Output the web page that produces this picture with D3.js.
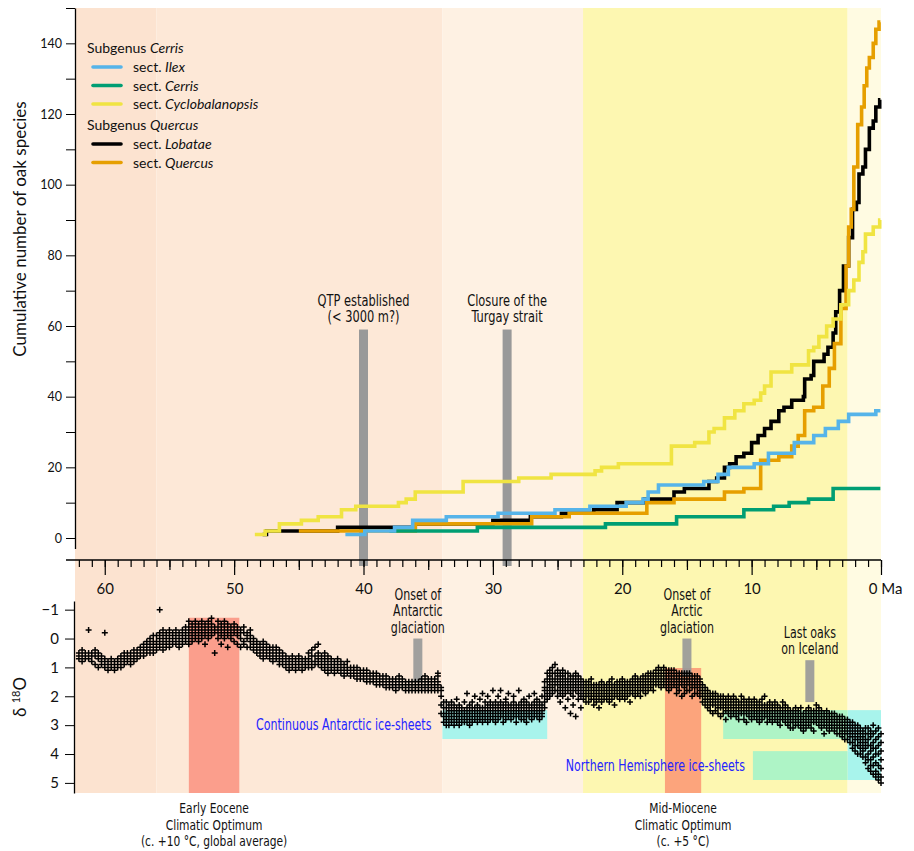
<!DOCTYPE html>
<html><head><meta charset="utf-8">
<script src="https://cdn.jsdelivr.net/npm/d3@7"></script>
<style>
body{margin:0;background:#fff}
svg{display:block}
.cond{font-family:"DejaVu Sans Condensed","Liberation Sans Narrow",sans-serif}
.reg{font-family:Lato,"Noto Sans",sans-serif}
</style></head><body>
<svg id="c" width="914" height="851"></svg>
<script>
// ---------------- DATA ----------------
const epochNames = ["Paleocene","Eocene","Oligocene","Miocene-Pliocene","Quaternary"];
const epochStart = [62.3, 56.0, 33.9, 23.03, 2.58];
const epochEnd   = [56.0, 33.9, 23.03, 2.58, 0];

const seriesNames = ["Ilex","Cerris","Cyclobalanopsis","Lobatae","Quercus"];
const subgenera = ["Cerris","Quercus"];
const subgenusMembers = [["Ilex","Cerris","Cyclobalanopsis"],["Lobatae","Quercus"]];
const ilex = [[41.4,1],[39.9,2],[37.6,3],[36.2,5],[33.6,6],[29.6,7],[25.2,8],[22.5,9],[19.7,10],[18.4,11],[18.0,13],[17.2,15],[13.7,16],[12.6,18],[11.8,20],[9.8,21],[8.7,24],[6.7,27],[5.2,29],[4.3,31],[3.3,33],[2.5,35],[0.4,36],[0.05,36]];
const cerris = [[38.0,2],[31.2,3],[21.3,4],[15.8,6],[10.6,8],[8.3,9],[7.1,10],[5.6,11],[3.7,14],[0.05,14]];
const cyclobalanopsis = [[48.4,1],[47.6,2],[46.5,4],[44.8,5],[43.5,6],[41.7,8],[40.6,9],[37.3,10],[36.7,11],[36.0,13],[32.3,16],[28.0,17],[25.5,18],[22.1,19],[21.6,20],[20.3,21],[16.2,26],[14.4,27],[13.3,30],[12.9,31],[12.1,34],[11.3,36],[10.6,38],[9.8,39],[9.3,41],[9.0,43],[8.5,47],[6.9,49],[5.6,53],[5.2,54],[4.8,57],[4.2,60],[3.7,62],[3.1,66],[2.5,70],[2.1,73],[1.7,78],[1.4,81],[1.2,86],[0.6,88],[0.1,90],[0.05,90]];
const lobatae = [[47.8,1],[47.5,2],[42.0,3],[36.0,4],[30.0,5],[27.1,6],[24.7,7],[22.2,8],[20.4,10],[18.3,11],[16.0,13],[15.2,14],[13.3,16],[12.7,17],[12.1,20],[11.7,21],[11.2,23],[10.6,24],[10.0,27],[9.5,29],[9.0,31],[8.5,33],[7.9,36],[7.5,37],[6.9,39],[6.0,40],[5.9,45],[5.4,46],[5.2,50],[4.4,52],[4.1,54],[3.7,58],[3.5,64],[3.2,70],[2.9,77],[2.5,85],[2.2,93],[1.9,95],[1.7,103],[1.4,105],[1.2,110],[0.9,116],[0.6,118],[0.4,122],[0.1,124],[0.05,124]];
const quercus = [[45.0,2],[36.0,4],[27.0,6],[24.1,7],[18.1,10],[16.0,11],[12.1,13],[10.6,14],[9.3,22],[7.9,23],[6.9,26],[6.4,29],[5.9,36],[5.2,37],[4.5,43],[4.0,48],[3.6,55],[3.1,65],[2.7,77],[2.5,88],[2.3,93],[2.1,105],[1.8,117],[1.5,122],[1.3,128],[1.1,133],[0.9,136],[0.6,140],[0.4,144],[0.15,146],[0.05,146]];
const seriesData = [ilex, cerris, cyclobalanopsis, lobatae, quercus];

const topEventLabels = [["QTP established","(< 3000 m?)"],["Closure of the","Turgay strait"]];
const topEventAges = [40.0, 28.9];
const topEventTop = [59, 59];
const isoEventLabels = [["Onset of","Antarctic","glaciation"],["Onset of","Arctic","glaciation"],["Last oaks","on Iceland"]];
const isoEventAges = [35.8, 15.0, 5.5];
const isoEventRange = [[0,1.5],[0,1.3],[0.75,2.2]];
const optimumLabels = [["Early Eocene","Climatic Optimum","(c. +10 °C, global average)"],["Mid-Miocene","Climatic Optimum","(c. +5 °C)"]];
const optimumAges = [[53.5,49.6],[16.7,13.9]];
const optimumTop = [-0.72, 1.02];
const iceLabels = ["Continuous Antarctic ice-sheets","Northern Hemisphere ice-sheets"];
const iceSpans = [[[33.9,25.8],[12.2,0]],[[9.9,0]]];
const iceRange = [[2.48,3.48],[3.9,4.9]];

// benthic d18O (per mille x10), rows: [age Ma, values...]
const d18O_paleogene = [
[62.0,5,7,6],[61.75,4,6,8],[61.5,6,5,7],[61.25,7,-3,5],[61.0,5,8,6],[60.75,6,9,4],[60.5,7,5,10],[60.25,8,6,9],[60.0,-2,7,9,10],[59.75,9,8,11],[59.5,10,7,9],[59.25,8,11,9],[59.0,9,7,10],[58.75,8,10,6],[58.5,7,9,5],[58.25,6,8,5,7],[58.0,7,5,9,6],[57.75,5,7,4,8],[57.5,6,4,7,5],[57.25,5,3,6,4],[57.0,4,2,6,3],[56.75,3,5,1,4],[56.5,2,4,0,3,5],[56.25,3,1,5,-1,2],[56.0,1,3,-1,2,4],
[55.75,-10,0,2,-2,3,1],[55.5,0,-3,2,1,-1,4],[55.25,1,-2,3,0,-1,2],[55.0,-1,2,0,-3,1,3],[54.75,0,-2,2,1,-1],[54.5,-1,1,-3,2,0],[54.25,0,-2,3,-1,1],[54.0,-2,1,-1,2,0,-3],[53.75,-3,0,-1,-4,1],[53.5,-6,-2,0,-4,2],[53.25,-3,-1,-5,1,-2],[53.0,-4,-2,0,-6,-1],[52.75,-5,-3,-1,1],[52.5,-2,-4,0,-6],[52.25,-3,-5,-1,2],[52.0,-4,-2,-6,0],[51.75,-5,-3,-1,-7],[51.5,-2,-4,5,-3],[51.25,-6,-2,0,-4],[51.0,-3,-5,-1,2],[50.75,-4,-2,0,-6],[50.5,-3,-1,-5,3],[50.25,-2,-4,0,-1],[50.0,-5,-3,1,-2],[49.75,-1,-3,2,-4],[49.5,-3,0,-2,3],[49.25,-2,1,-4,2],[49.0,0,-2,3,-1],[48.75,1,-1,3,-3],[48.5,2,0,4,1],[48.25,3,1,5,2],[48.0,4,2,6,3],[47.75,3,5,1,7],[47.5,4,6,2,5],[47.25,5,3,7,4],[47.0,6,4,8,3],[46.75,5,7,3,6],[46.5,6,8,4,9],[46.25,7,9,5,8],[46.0,8,6,10,7],[45.75,9,7,8,11],[45.5,8,10,6,9],[45.25,9,7,11,8],[45.0,10,8,9,6],[44.75,8,10,7,11],[44.5,9,7,10,8],[44.25,7,9,5,10],[44.0,8,6,10,4],[43.75,6,8,3,9],[43.5,7,5,9,2],[43.25,8,6,10,7],[43.0,9,7,11,5],[42.75,8,10,6,12],[42.5,9,11,7,10],[42.25,10,8,12,9],[42.0,11,9,10,7],[41.75,10,12,8,11],[41.5,11,9,13,10],[41.25,10,12,11,8],[41.0,12,10,13,11],[40.75,11,13,10,12],[40.5,12,11,14,10],[40.25,13,11,12,14],[40.0,12,14,11,13],[39.75,13,12,15,11],[39.5,14,12,13,15],[39.25,13,15,12,14],[39.0,14,13,16,12],[38.75,15,13,14,16],[38.5,14,16,13,15],[38.25,15,14,17,13],[38.0,16,14,15,17],[37.75,15,17,14,16],[37.5,16,15,18,14],[37.25,15,17,16,13],[37.0,16,14,17,15],[36.75,17,15,16,18],[36.5,16,18,15,17],[36.25,17,16,18,15],[36.0,16,18,17,15],[35.75,17,15,18,16],[35.5,16,18,15,17,14],[35.25,17,16,18,15,13],[35.0,16,18,17,15,14],[34.75,17,15,16,18,14,16],[34.5,16,17,15,18,14,17],[34.25,15,17,13,16,18,12]
];
const d18O_neogene = [
[34.0,17,20,23,18,26],[33.8,24,27,22,29,26],[33.6,26,29,24,28,30,22],[33.4,25,28,27,23,30,26],[33.2,27,24,29,26,22,28],[33.0,26,28,23,27,30,25],[32.8,25,27,29,24,26,21],[32.6,27,25,28,23,26,30],[32.4,26,29,24,27,25,28],[32.2,25,27,22,28,26,29],[32.0,27,24,26,29,25,19],[31.8,26,28,25,23,27,30],[31.6,25,27,29,24,26,22],[31.4,26,24,28,25,27,20],[31.2,27,25,23,28,26,29],[31.0,25,28,26,24,27,21],[30.8,26,24,27,29,25,19],[30.6,24,27,25,22,28,26],[30.4,26,23,27,25,29,20],[30.2,25,27,24,26,22,28],[30.0,24,26,28,23,25,18],[29.8,26,24,27,22,25,29],[29.6,25,23,27,26,20,28],[29.4,24,26,22,27,25,18],[29.2,25,27,23,26,24,29],[29.0,26,24,28,22,25,21],[28.8,24,26,23,27,25,19],[28.6,25,23,27,24,26,28],[28.4,24,26,22,25,27,20],[28.2,26,24,27,23,25,29],[28.0,25,27,23,26,24,18],[27.8,24,26,28,22,25,27],[27.6,25,23,26,24,28,21],[27.4,26,24,22,27,25,29],[27.2,24,27,25,23,26,20],[27.0,25,23,27,24,26,28],[26.8,26,24,22,25,27,19],[26.6,24,26,23,27,25,21],[26.4,25,27,24,26,22,28],[26.2,26,24,27,23,25,20],
[26.0,17,20,15,22,18,24],[25.8,14,17,12,19,15,21],[25.6,13,16,11,18,20,14],[25.4,15,12,17,10,19,14],[25.2,14,16,12,18,9,15],[25.0,16,13,18,11,15,20],[24.8,15,17,12,19,14,22],[24.6,13,16,18,11,15,20],[24.4,15,12,17,14,19,24],[24.2,16,14,18,12,17,21],[24.0,14,17,15,19,13,26],[23.8,16,13,18,15,20,23],[23.6,15,18,14,17,12,27],[23.4,17,14,19,16,21,13],[23.2,15,18,16,20,14,24],[23.0,16,19,15,18,21,17],[22.8,18,15,20,17,22,16],[22.6,17,20,16,19,22,15],[22.4,18,16,21,19,17,14],[22.2,19,17,21,16,20,23],[22.0,18,20,16,19,22,17],[21.8,17,19,21,16,18,24],[21.6,19,17,20,18,15,22],[21.4,18,20,17,19,21,16],[21.2,17,19,18,21,16,20],[21.0,19,17,20,15,18,22],[20.8,18,16,19,21,17,14],[20.6,17,19,16,20,18,23],[20.4,18,16,20,17,19,15],[20.2,17,19,15,18,21,16],[20.0,16,18,20,17,19,14],[19.8,18,16,19,17,15,21],[19.6,17,19,16,18,20,15],[19.4,16,18,17,19,15,22],[19.2,17,15,18,16,19,14],[19.0,16,18,15,17,20,13],[18.8,17,15,18,16,14,19],[18.6,16,18,15,17,14,20],[18.4,15,17,16,14,18,13],[18.2,16,14,17,15,13,19],[18.0,15,17,14,16,12,18],[17.8,14,16,13,15,17,12],[17.6,15,13,16,14,12,18],[17.4,14,12,15,13,16,11],[17.2,13,15,12,14,16,10],[17.0,14,12,15,13,11,17],[16.8,13,11,14,12,16,10],[16.6,12,14,11,13,15,17],[16.4,13,11,14,12,16,18],[16.2,12,14,13,11,15,17],[16.0,13,15,12,14,16,11],[15.8,14,12,15,13,17,19],[15.6,13,15,14,12,16,18],[15.4,14,12,16,13,15,20],[15.2,13,15,12,14,17,19],[15.0,14,16,13,15,12,18],[14.8,15,13,16,14,18,12],[14.6,14,16,15,13,17,20],[14.4,15,17,14,16,13,19],[14.2,16,14,17,15,19,13],[14.0,17,15,18,16,20,14],
[13.8,18,20,17,19,22,16],[13.6,19,21,18,20,23,17],[13.4,20,22,19,21,24,18],[13.2,21,19,22,20,25,23],[13.0,20,22,21,23,19,26],[12.8,21,23,20,22,25,19],[12.6,22,20,23,21,26,24],[12.4,21,23,22,24,20,27],[12.2,22,24,21,23,26,20],[12.0,23,21,24,22,25,28],[11.8,22,24,23,21,26,20],[11.6,23,25,22,24,27,21],[11.4,24,22,25,23,26,20],[11.2,23,25,24,22,27,21],[11.0,24,22,25,23,28,26],[10.8,23,25,22,24,26,20],[10.6,24,26,23,25,21,28],[10.4,25,23,24,26,22,29],[10.2,24,26,25,23,27,21],[10.0,25,23,26,24,22,28],[9.8,24,26,23,25,27,21],[9.6,25,24,26,23,28,22],[9.4,24,26,25,22,27,29],[9.2,25,23,26,24,21,28],[9.0,24,26,23,25,27,20],[8.8,25,27,24,26,23,29],[8.6,26,24,25,27,22,28],[8.4,25,27,26,24,23,29],[8.2,26,24,27,25,28,22],[8.0,25,27,24,26,29,23],[7.8,26,28,25,27,24,30],[7.6,27,25,26,28,24,22],[7.4,26,28,27,25,29,23],[7.2,27,25,28,26,30,24],[7.0,26,28,27,25,29,31],[6.8,27,29,26,28,25,31],[6.6,28,26,27,29,24,30],[6.4,27,29,28,26,30,25],[6.2,28,26,27,29,31,24],[6.0,27,29,26,28,30,32],[5.8,28,26,29,27,25,31],[5.6,27,29,28,26,30,24],[5.4,26,28,27,29,25,31],[5.2,27,25,28,26,29,32],[5.0,26,28,27,25,29,23],[4.8,27,29,26,28,30,24],[4.6,28,26,27,29,25,31],[4.4,27,29,28,26,30,33],[4.2,28,26,29,27,31,25],[4.0,27,29,28,30,26,32],[3.8,28,30,27,29,31,26],[3.6,29,27,30,28,32,26],[3.4,28,30,29,31,27,33],[3.2,29,31,28,30,33,27],[3.0,30,28,32,29,31,34,27],[2.8,29,31,33,30,28,35,32],[2.6,31,29,33,30,35,28,32],[2.4,30,32,34,31,29,36,33],[2.2,32,30,34,36,31,29,38],[2.0,31,33,35,30,37,32,39],[1.8,33,31,35,37,30,34,40],[1.6,32,34,36,38,31,40,35],[1.4,34,32,36,39,41,33,37],[1.2,33,36,38,31,41,35,43],[1.0,35,33,37,40,42,31,45],[0.8,34,37,39,42,32,44,46],[0.6,36,33,38,41,44,47,30],[0.4,35,38,40,43,46,32,48],[0.2,37,34,40,44,47,31,49],[0.0,36,39,42,45,33,48,50]
];

const xMajorTicks = [0,10,20,30,40,50,60];
const xMidTicks = [5,15,25,35,45,55];
const yTopTicks = [0,10,20,30,40,50,60,70,80,90,100,110,120,130,140,150];
const yTopLabels = [0,20,40,60,80,100,120,140];
const yIsoTicks = [-1,0,1,2,3,4,5];

// ---------------- STYLE ----------------
const epochFill = ["#fce3d0","#fde8d7","#fef1e3","#fdf7b1","#fffbe2"];
const seriesColor = {Ilex:"#56b4e9",Cerris:"#009e73",Cyclobalanopsis:"#f0e442",Lobatae:"#000000",Quercus:"#e69f00"};
const drawOrder = ["Lobatae","Quercus","Cyclobalanopsis","Cerris","Ilex"];
const optimumFill = ["#fb9e8c","#fca47c"];
const condScale = 0.82;

// ---------------- DRAW ----------------
const svg = d3.select("#c");
const x = d3.scaleLinear().domain([62.3,0]).range([75,881]);
const yTop = d3.scaleLinear().domain([-3,150]).range([548.6,8]);
const yIso = d3.scaleLinear().domain([-1.3,5.35]).range([601,793]);
const axisY = 560;

svg.append("g").selectAll("rect").data(epochNames).join("rect")
  .attr("x",(d,i)=>x(epochStart[i])).attr("width",(d,i)=>x(epochEnd[i])-x(epochStart[i]))
  .attr("y",yTop(150)).attr("height",yIso(5.35)-yTop(150))
  .attr("fill",(d,i)=>epochFill[i]);

const iceG = svg.append("g");
iceSpans.forEach((spans,k)=>{
  spans.forEach(s=>{
    const parts = s[1] < 2.58 ? [[s[0],2.58,"#aef4c6"],[2.58,s[1],"#a8f4ec"]] : [[s[0],s[1],"#a8f4ec"]];
    parts.forEach(p=>{
      iceG.append("rect").attr("x",x(p[0])).attr("width",x(p[1])-x(p[0]))
        .attr("y",yIso(iceRange[k][0])).attr("height",yIso(iceRange[k][1])-yIso(iceRange[k][0]))
        .attr("fill",p[2]);
    });
  });
});
iceG.append("rect").attr("x",x(2.58)).attr("width",x(0)-x(2.58))
  .attr("y",yIso(iceRange[0][1])).attr("height",yIso(iceRange[1][0])-yIso(iceRange[0][1]))
  .attr("fill","#a8f4ec");

svg.append("g").selectAll("rect").data(optimumAges).join("rect")
  .attr("x",d=>x(d[0])).attr("width",d=>x(d[1])-x(d[0]))
  .attr("y",(d,i)=>yIso(optimumTop[i])).attr("height",(d,i)=>yIso(5.35)-yIso(optimumTop[i]))
  .attr("fill",(d,i)=>optimumFill[i]);

const barW = 9;
svg.append("g").selectAll("rect").data(isoEventAges).join("rect")
  .attr("x",d=>x(d)-barW/2).attr("width",barW)
  .attr("y",(d,i)=>yIso(isoEventRange[i][0])).attr("height",(d,i)=>yIso(isoEventRange[i][1])-yIso(isoEventRange[i][0]))
  .attr("fill","#999999").attr("fill-opacity",0.92);

const isoPoints = [];
d18O_paleogene.concat(d18O_neogene).forEach(r=>{ r.slice(1).forEach(v=>isoPoints.push([r[0], v/10])); });
let pd = "";
const a = 3;
isoPoints.forEach(p=>{
  const px = x(p[0]), py = yIso(p[1]);
  pd += `M${(px-a).toFixed(1)},${py.toFixed(1)}h${2*a}M${px.toFixed(1)},${(py-a).toFixed(1)}v${2*a}`;
});
svg.append("path").attr("d",pd).attr("stroke","#000").attr("stroke-width",1.5).attr("fill","none");

svg.append("g").selectAll("rect").data(topEventAges).join("rect")
  .attr("x",d=>x(d)-barW/2).attr("width",barW)
  .attr("y",(d,i)=>yTop(topEventTop[i])).attr("height",(d,i)=>axisY+6-yTop(topEventTop[i]))
  .attr("fill","#999999");

const line = d3.line().x(d=>x(d[0])).y(d=>yTop(d[1])).curve(d3.curveStepAfter);
drawOrder.forEach(name=>{
  const i = seriesNames.indexOf(name);
  svg.append("path").attr("d",line(seriesData[i])).attr("fill","none")
    .attr("stroke",seriesColor[name]).attr("stroke-width",3.6).attr("stroke-linejoin","miter");
});

// x axis
const gx = svg.append("g").attr("transform",`translate(0,${axisY})`);
gx.append("g").call(d3.axisBottom(x).tickValues(d3.range(0,63)).tickSize(7).tickSizeOuter(0).tickFormat(""))
  .call(g=>g.select(".domain").remove());
gx.append("g").call(d3.axisBottom(x).tickValues(xMidTicks).tickSize(10).tickFormat(""))
  .call(g=>g.select(".domain").remove());
gx.append("g").call(d3.axisBottom(x).tickValues(xMajorTicks).tickSize(15).tickPadding(8).tickFormat(d=>d===0?"0 Ma":d))
  .call(g=>g.select(".domain").remove())
  .call(g=>g.selectAll("text").attr("font-size",15).attr("font-family","Lato, 'Noto Sans', sans-serif").attr("fill","#111")
     .attr("dx",d=>d===0?4:0));
gx.append("line").attr("x1",66).attr("x2",x(0)).attr("stroke","#000").attr("stroke-width",1.3);
gx.selectAll(".tick line").attr("stroke-width",1.2);

svg.append("g").attr("transform","translate(75,0)")
  .call(d3.axisLeft(yTop).tickValues(yTopTicks).tickSize(9).tickPadding(4).tickSizeOuter(0)
     .tickFormat(d=>yTopLabels.includes(d)?d:""))
  .call(g=>g.select(".domain").attr("stroke-width",1.3))
  .call(g=>g.selectAll("text").attr("font-size",12.5).attr("font-family","Lato, 'Noto Sans', sans-serif").attr("fill","#111"));

svg.append("g").attr("transform","translate(74,0)")
  .call(d3.axisLeft(yIso).tickValues(yIsoTicks).tickSize(9).tickPadding(6).tickSizeOuter(0).tickFormat(d3.format("d")))
  .call(g=>g.select(".domain").attr("stroke-width",1.3))
  .call(g=>g.selectAll("text").attr("font-size",15).attr("font-family","Lato, 'Noto Sans', sans-serif").attr("fill","#111"));

svg.append("text").attr("class","reg").attr("transform","translate(26,229) rotate(-90)")
  .attr("text-anchor","middle").attr("font-size",17).attr("fill","#111").text("Cumulative number of oak species");
const dt = svg.append("text").attr("class","reg").attr("transform","translate(26,697) rotate(-90)")
  .attr("text-anchor","middle").attr("font-size",17).attr("fill","#111");
dt.append("tspan").text("δ ");
dt.append("tspan").attr("font-size",11).attr("dy",-6).text("18");
dt.append("tspan").attr("dy",6).text("O");

// legend
const lg = svg.append("g").attr("class","reg").attr("font-size",14).attr("fill","#111");
let ly = 53;
subgenera.forEach((sg,k)=>{
  const t = lg.append("text").attr("x",87).attr("y",ly);
  t.append("tspan").text("Subgenus ");
  t.append("tspan").attr("font-style","italic").text(sg);
  ly += 14;
  subgenusMembers[k].forEach(name=>{
    lg.append("line").attr("x1",93).attr("x2",121).attr("y1",ly).attr("y2",ly)
      .attr("stroke",seriesColor[name]).attr("stroke-width",3.6).attr("stroke-linecap","round");
    const tt = lg.append("text").attr("x",133).attr("y",ly+5);
    tt.append("tspan").text("sect. ");
    tt.append("tspan").attr("font-style","italic").text(name);
    ly += 18.5;
  });
  ly += 7.5;
});

// condensed annotation text
function condText(cx, y, str, anchor, size, color){
  return svg.append("text").attr("class","cond").attr("transform",`translate(${cx},${y}) scale(${condScale},1)`)
    .attr("text-anchor",anchor).attr("font-size",size).attr("fill",color||"#111").text(str);
}
function multiline(cx, yFirst, lines, size, lh){
  lines.forEach((l,j)=>condText(cx, yFirst+j*lh, l, "middle", size));
}
topEventLabels.forEach((L,i)=>multiline(x(topEventAges[i]), yTop(topEventTop[i])-24, L, 15.5, 16.5));
isoEventLabels.forEach((L,i)=>multiline(x(isoEventAges[i]), yIso(isoEventRange[i][0])-6-(L.length-1)*16.5, L, 15, 16.5));
optimumLabels.forEach((L,i)=>multiline((x(optimumAges[i][0])+x(optimumAges[i][1]))/2, yIso(5.35)+20, L, 14.5, 16.5));

condText(x(iceSpans[0][0][0])-11, yIso((iceRange[0][0]+iceRange[0][1])/2)+5, iceLabels[0], "end", 15, "#2323ff");
condText(x(iceSpans[1][0][0])-8, yIso((iceRange[1][0]+iceRange[1][1])/2)+5, iceLabels[1], "end", 15, "#2323ff");
</script>
</body></html>
